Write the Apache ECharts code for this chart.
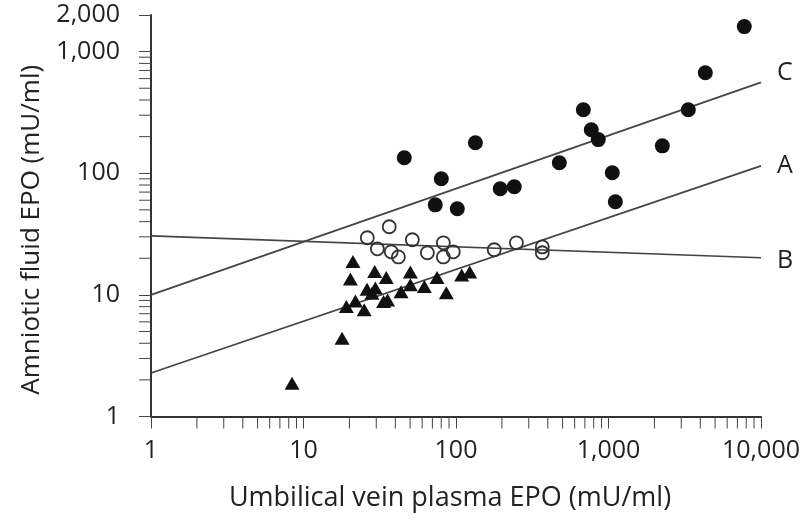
<!DOCTYPE html>
<html>
<head>
<meta charset="utf-8">
<script src="https://cdn.jsdelivr.net/npm/echarts@6/dist/echarts.min.js"></script>
<style>html,body{margin:0;padding:0;background:#fff;}#chart{width:800px;height:520px;}</style>
</head>
<body>
<div id="chart"></div>
<script>
// Umbilical vein plasma EPO (x) vs amniotic fluid EPO (y), mU/ml
const filledX = [7770, 4315, 3337, 684, 771, 857, 2254, 476, 1059, 1109, 45.8, 134, 80.1, 195, 241, 73.1, 102];
const filledY = [1606, 671, 333, 333, 228, 189, 168, 122, 101, 58.3, 134, 178, 90.1, 74.5, 77.4, 55.0, 51.0];

const openX = [26.2, 30.5, 36.5, 37.6, 41.9, 51.7, 64.9, 82.6, 82.6, 96, 178, 249, 368, 368];
const openY = [29.5, 23.9, 36.3, 22.6, 20.5, 28.4, 22.2, 26.8, 20.5, 22.6, 23.5, 26.8, 24.8, 22.2];

const triX = [21.1, 20.3, 29.3, 34.9, 50.2, 75.1, 109, 123, 26.1, 29.6, 28.1, 21.9, 19.1, 25.0, 33.5, 35.6, 43.6, 50.2, 62.0, 86.4, 17.9, 8.41];
const triY = [18.8, 13.5, 15.6, 13.9, 15.4, 13.9, 14.6, 15.4, 11.1, 11.4, 10.3, 8.92, 8.01, 7.53, 8.81, 9.09, 10.6, 12.1, 11.7, 10.4, 4.40, 1.88];

// regression lines (end points at x = 1 and x = 10,000)
const lineX = [1, 10000];
const lineA = [2.28, 115];
const lineB = [30.6, 20.2];
const lineC = [10, 559];

// axis ticks
const xMajor = [1, 10, 100, 1000, 10000];
const yMajor = [1, 10, 100, 1000, 2000];
const xMinorTicks = [2,3,4,5,6,7,8,9, 20,30,40,50,60,70,80,90, 200,300,400,500,600,700,800,900, 2000,3000,4000,5000,6000,7000,8000,9000];
const yMinorTicks = [2,3,4,5,6,7,8,9, 20,30,40,50,60,70,80,90, 200,300,400,500,600,700,800,900];

const FONT = '"Open Sans", "Noto Sans", sans-serif';
const zip = (a, b) => a.map((v, i) => [v, b[i]]);
const fmt = v => Math.round(v).toLocaleString('en-US');

const chart = echarts.init(document.getElementById('chart'), null, {renderer: 'canvas'});

const tickLen = 12;
const tickStyle = {stroke: '#444', lineWidth: 1};

const lineSeries = (name, ys, offset) => ({
  name: name,
  type: 'line',
  data: zip(lineX, ys),
  symbol: 'none',
  silent: true,
  z: 1,
  lineStyle: {color: '#444', width: 1.7},
  endLabel: {
    show: true,
    formatter: name,
    fontFamily: FONT,
    fontSize: 25,
    color: '#222',
    distance: 16,
    offset: offset
  }
});

chart.setOption({
  animation: false,
  backgroundColor: '#fff',
  textStyle: {fontFamily: FONT},
  grid: {left: 151, right: 39, top: 15, bottom: 103.5, containLabel: false, outerBoundsMode: 'none'},
  xAxis: {
    type: 'log',
    logBase: 10,
    min: xMajor[0],
    max: xMajor[xMajor.length - 1],
    name: 'Umbilical vein plasma EPO (mU/ml)',
    nameLocation: 'middle',
    nameGap: 68,
    nameTextStyle: {fontFamily: FONT, fontSize: 27, color: '#222', padding: [0, 12, 0, 0]},
    axisLine: {show: true, lineStyle: {color: '#333', width: 2}},
    axisTick: {show: true, inside: false, length: tickLen, lineStyle: {color: '#444', width: 1}},
    axisLabel: {fontFamily: FONT, fontSize: 25, color: '#222', margin: 22, formatter: fmt},
    splitLine: {show: false},
    minorTick: {show: false}
  },
  yAxis: {
    type: 'log',
    logBase: 10,
    min: yMajor[0],
    max: yMajor[yMajor.length - 1],
    name: 'Amniotic fluid EPO (mU/ml)',
    nameLocation: 'middle',
    nameGap: 106,
    nameRotate: 90,
    nameTextStyle: {fontFamily: FONT, fontSize: 26, color: '#222', padding: [0, 28, 0, 0]},
    axisLine: {show: true, lineStyle: {color: '#333', width: 2}},
    axisTick: {show: true, inside: false, length: tickLen, lineStyle: {color: '#444', width: 1}},
    axisLabel: {fontFamily: FONT, fontSize: 25, color: '#222', margin: 31, formatter: fmt},
    splitLine: {show: false},
    minorTick: {show: false}
  },
  series: [
    lineSeries('C', lineC, [0, -9]),
    lineSeries('A', lineA, [0, 0]),
    lineSeries('B', lineB, [0, 3]),
    {
      type: 'custom',
      coordinateSystem: 'cartesian2d',
      clip: false,
      silent: true,
      data: xMinorTicks.map(v => [v, 1]),
      renderItem: (params, api) => {
        const p = api.coord([api.value(0), api.value(1)]);
        return {type: 'line', shape: {x1: p[0], y1: p[1], x2: p[0], y2: p[1] + tickLen}, style: tickStyle};
      }
    },
    {
      type: 'custom',
      coordinateSystem: 'cartesian2d',
      clip: false,
      silent: true,
      data: yMinorTicks.map(v => [1, v]),
      renderItem: (params, api) => {
        const p = api.coord([api.value(0), api.value(1)]);
        return {type: 'line', shape: {x1: p[0] - tickLen, y1: p[1], x2: p[0], y2: p[1]}, style: tickStyle};
      }
    },
    {
      name: 'filled',
      type: 'scatter',
      data: zip(filledX, filledY),
      symbol: 'circle',
      symbolSize: 15,
      z: 3,
      itemStyle: {color: '#111', opacity: 1}
    },
    {
      name: 'open',
      type: 'scatter',
      data: zip(openX, openY),
      symbol: 'circle',
      symbolSize: 13,
      z: 3,
      itemStyle: {color: 'rgba(0,0,0,0)', borderColor: '#333', borderWidth: 1.8, opacity: 1}
    },
    {
      name: 'triangles',
      type: 'scatter',
      data: zip(triX, triY),
      symbol: 'triangle',
      symbolSize: [15, 13],
      z: 3,
      itemStyle: {color: '#111', opacity: 1}
    }
  ]
});
</script>
</body>
</html>
